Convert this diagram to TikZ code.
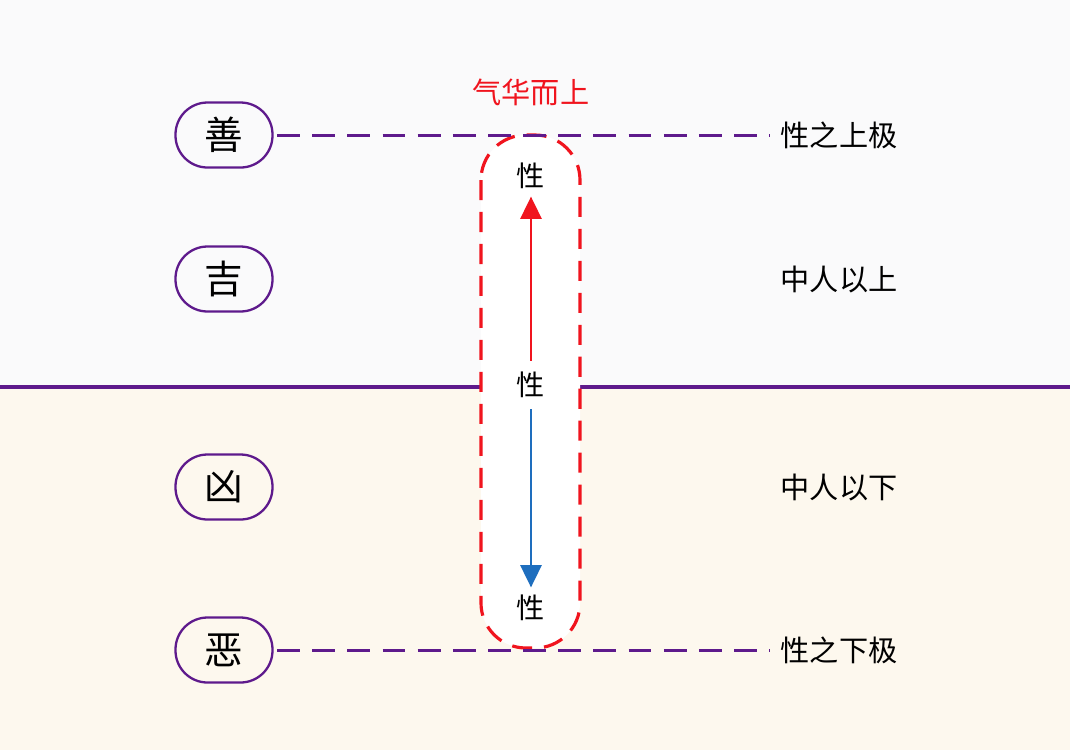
\documentclass[tikz,border=0pt]{standalone}
\usepackage{fontspec}
\setmainfont{Noto Sans CJK SC}
\usepackage{tikz}
\usetikzlibrary{arrows.meta}

\definecolor{lineviolet}{HTML}{5E1A8C}
\definecolor{boxred}{HTML}{F0141E}
\definecolor{downblue}{HTML}{1E6EBE}
\definecolor{topbg}{HTML}{FAFAFB}
\definecolor{lowbg}{HTML}{FDF8EE}

\tikzset{
  grade/.style={draw=lineviolet, line width=0.65pt, rounded corners=0.32cm,
    minimum width=0.97cm, minimum height=0.65cm, inner sep=0pt, font=\fontsize{11}{11}\selectfont},
  levellabel/.style={anchor=west, inner sep=0pt, font=\fontsize{8.3}{8.3}\selectfont},
  natlabel/.style={inner sep=1pt, font=\fontsize{8}{8}\selectfont},
  levelline/.style={lineviolet, line width=0.85pt, dash pattern=on 6.5pt off 3.5pt,
    shorten <=1pt, shorten >=2.8pt}
}

\begin{document}
\begin{tikzpicture}
    \def\midx{5.31}
    \def\sepy{-3.87}
    \useasboundingbox (0,0) rectangle (10.7,-7.5);
    \fill[topbg] (0,0) rectangle (10.7,\sepy);
    \fill[lowbg] (0,\sepy) rectangle (10.7,-7.5);
    \draw[lineviolet, line width=0.9pt] (0,\sepy) -- (10.7,\sepy);

    % the band of the middle nature
    \draw[boxred, fill=white, line width=0.9pt, dash pattern=on 5.7pt off 3.4pt,
          rounded corners=0.45cm] (4.81,-1.35) rectangle (5.80,-6.48);

    \node[grade] (shan) at (2.24,-1.35) {善};
    \node[grade] (ji)   at (2.24,-2.79) {吉};
    \node[grade] (xiong) at (2.24,-4.87) {凶};
    \node[grade] (e)    at (2.24,-6.50) {恶};

    \node[levellabel] (topl)  at (7.80,-1.35) {性之上极};
    \node[levellabel] (upl)   at (7.80,-2.79) {中人以上};
    \node[levellabel] (downl) at (7.80,-4.87) {中人以下};
    \node[levellabel] (botl)  at (7.80,-6.50) {性之下极};

    \node[natlabel, text=boxred, font=\fontsize{8.3}{8.3}\selectfont] (qi) at (\midx,-0.92) {气华而上};
    \node[natlabel] (xtop) at (\midx,-1.76) {性};
    \node[natlabel] (xmid) at (\midx,-3.85) {性};
    \node[natlabel] (xbot) at (\midx,-6.08) {性};

    \draw[levelline] (shan) -- (topl);
    \draw[levelline] (e) -- (botl);

    \draw[boxred, line width=0.6pt, -{Triangle[width=6pt,length=6.3pt]},
          shorten <=2pt, shorten >=1pt] (xmid) -- (xtop);
    \draw[downblue, line width=0.6pt, -{Triangle[width=6pt,length=6.3pt]},
          shorten <=2pt, shorten >=1pt] (xmid) -- (xbot);
\end{tikzpicture}
\end{document}
